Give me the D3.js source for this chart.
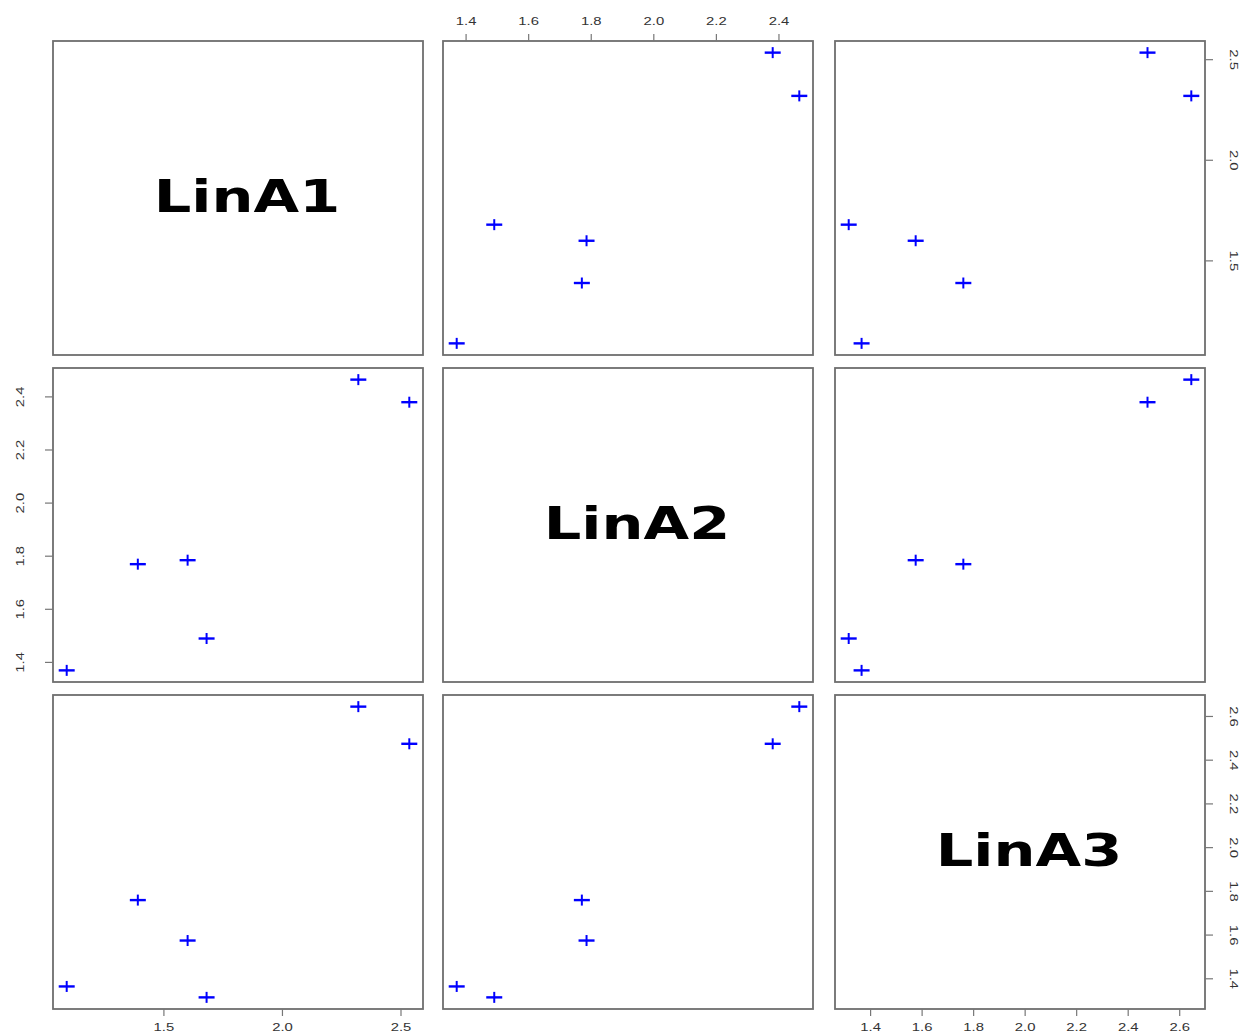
<!DOCTYPE html>
<html>
<head>
<meta charset="utf-8">
<script src="https://cdn.jsdelivr.net/npm/d3@7"></script>
<style>
  body { margin: 0; background: #fff; }
</style>
</head>
<body>
<div id="chart"></div>
<script>
const varNames = ["LinA1", "LinA2", "LinA3"];
const linA1 = [1.09, 1.39, 1.60, 1.68, 2.32, 2.535];
const linA2 = [1.37, 1.77, 1.785, 1.49, 2.465, 2.38];
const linA3 = [1.365, 1.76, 1.575, 1.315, 2.645, 2.475];
const ticksA1 = [1.5, 2.0, 2.5];
const ticksA2 = [1.4, 1.6, 1.8, 2.0, 2.2, 2.4];
const ticksA3 = [1.4, 1.6, 1.8, 2.0, 2.2, 2.4, 2.6];

const vars = [linA1, linA2, linA3];
const ticks = [ticksA1, ticksA2, ticksA3];

const width = 1240, height = 1033;
const colX = [53, 443, 835], colW = 370;
const rowY = [41, 368, 695], rowH = 314;

const svg = d3.select("#chart").append("svg")
  .attr("width", width)
  .attr("height", height);

// R-style range: 4% padding each side
function dom(v) {
  const [lo, hi] = d3.extent(v);
  const pad = (hi - lo) * 0.04;
  return [lo - pad, hi + pad];
}

const xs = vars.map((v, i) => d3.scaleLinear().domain(dom(v)).range([colX[i], colX[i] + colW]));
const ys = vars.map((v, i) => d3.scaleLinear().domain(dom(v)).range([rowY[i] + rowH, rowY[i]]));

const labelColor = "#333";
const tickColor = "#777";

for (let r = 0; r < 3; r++) {
  for (let c = 0; c < 3; c++) {
    const g = svg.append("g");
    if (r === c) {
      g.append("g")
        .attr("transform", `translate(${colX[c] + colW / 2 + 9}, ${rowY[r] + rowH / 2 + 14}) scale(1.34,1)`)
        .append("text")
        .attr("text-anchor", "middle")
        .style("font-family", "DejaVu Sans")
        .style("font-weight", "bold")
        .style("font-size", "44px")
        .style("fill", "#000")
        .text(varNames[r]);
    } else {
      const x = xs[c], y = ys[r];
      const pts = g.selectAll("g.pt")
        .data(d3.range(vars[c].length))
        .join("g")
        .attr("class", "pt")
        .attr("transform", i => `translate(${x(vars[c][i])}, ${y(vars[r][i])})`);
      pts.append("line")
        .attr("x1", -8).attr("x2", 8).attr("y1", 0).attr("y2", 0)
        .attr("stroke", "#0000ff").attr("stroke-width", 2.4);
      pts.append("line")
        .attr("x1", 0).attr("x2", 0).attr("y1", -5.5).attr("y2", 5.5)
        .attr("stroke", "#0000ff").attr("stroke-width", 2);
    }
    g.append("rect")
      .attr("x", colX[c]).attr("y", rowY[r])
      .attr("width", colW).attr("height", rowH)
      .attr("fill", "none")
      .attr("stroke", "#6e6e6e")
      .attr("stroke-width", 1.8);
  }
}

function drawTickLabel(px, py, rot, txt) {
  svg.append("g")
    .attr("transform", `translate(${px}, ${py}) rotate(${rot}) scale(1.35,1)`)
    .append("text")
    .attr("text-anchor", "middle")
    .attr("dy", "0.35em")
    .style("font-family", "Liberation Sans, Arial, sans-serif")
    .style("font-size", "11px")
    .style("fill", labelColor)
    .text(txt);
}

const fmt = d3.format(".1f");

// top axis on column 2
ticks[1].forEach(t => {
  const px = xs[1](t);
  svg.append("line").attr("x1", px).attr("x2", px).attr("y1", rowY[0] - 7).attr("y2", rowY[0])
    .attr("stroke", tickColor).attr("stroke-width", 1.2);
  drawTickLabel(px, 21, 0, fmt(t));
});

// bottom axes on columns 1 and 3
[0, 2].forEach(c => {
  ticks[c].forEach(t => {
    const px = xs[c](t);
    const yb = rowY[2] + rowH;
    svg.append("line").attr("x1", px).attr("x2", px).attr("y1", yb).attr("y2", yb + 7)
      .attr("stroke", tickColor).attr("stroke-width", 1.2);
    drawTickLabel(px, 1027, 0, fmt(t));
  });
});

// left axis on row 2
ticks[1].forEach(t => {
  const py = ys[1](t);
  svg.append("line").attr("x1", colX[0] - 8).attr("x2", colX[0]).attr("y1", py).attr("y2", py)
    .attr("stroke", tickColor).attr("stroke-width", 1.2);
  drawTickLabel(20, py, -90, fmt(t));
});

// right axes on rows 1 and 3
[0, 2].forEach(r => {
  ticks[r].forEach(t => {
    const py = ys[r](t);
    const xr = colX[2] + colW;
    svg.append("line").attr("x1", xr).attr("x2", xr + 8).attr("y1", py).attr("y2", py)
      .attr("stroke", tickColor).attr("stroke-width", 1.2);
    drawTickLabel(1234, py, 90, fmt(t));
  });
});
</script>
</body>
</html>
